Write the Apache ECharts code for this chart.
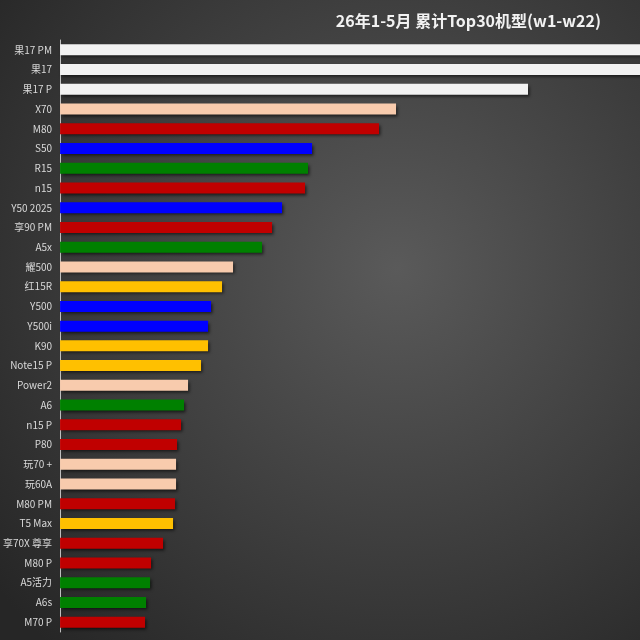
<!DOCTYPE html>
<html style="height: 100%">
<head>
    <meta charset="utf-8">
    <script src="https://cdn.jsdelivr.net/npm/echarts@6/dist/echarts.min.js"></script>
    <title>Top30</title>
</head>
<body style="height: 100%; margin: 0">
<div id="container" style="width: 640px; height: 640px"></div>
<script type="text/javascript">

    let models = ["果17 PM", "果17", "果17 P", "X70", "M80", "S50", "R15", "n15", "Y50 2025", "享90 PM",
        "A5x", "耀500", "红15R", "Y500", "Y500i", "K90", "Note15 P", "Power2", "A6", "n15 P",
        "P80", "玩70 +", "玩60A", "M80 PM", "T5 Max", "享70X 尊享", "M80 P", "A5活力", "A6s", "M70 P"]

    let sales = [650, 620, 468, 336, 319, 252, 248, 245, 222, 212,
        202, 173, 162, 151, 148, 148, 141, 128, 124, 121,
        117, 116, 116, 115, 113, 103, 91, 90, 86, 85]

    // brand group of each model -> colour
    let groups = ["w", "w", "w", "p", "r", "b", "g", "r", "b", "r",
        "g", "p", "y", "b", "b", "y", "y", "p", "g", "r",
        "r", "p", "p", "r", "y", "r", "r", "g", "g", "r"]

    let groupColors = {w: "#f2f2f2", p: "#f8cbad", r: "#c00000", b: "#0000ff", g: "#008000", y: "#ffc000"}

    let barData = sales.map((v, i) => ({
        value: v,
        itemStyle: {color: groupColors[groups[i]]}
    }))

    let chart = echarts.init(document.getElementById("container"))
    chart.setOption({
        backgroundColor: {
            type: 'radial', x: 0.62, y: 0.42, r: 0.8,
            colorStops: [
                {offset: 0, color: '#5a5a5a'},
                {offset: 1, color: '#262626'}
            ]
        },
        title: {
            text: '26年1-5月 累计Top30机型(w1-w22)',
            right: 34,
            top: 8,
            textStyle: {
                color: '#f2f2f2',
                fontSize: 16,
                fontWeight: 'bold',
                fontFamily: 'Noto Sans CJK SC'
            }
        },
        grid: {left: 60, right: 0, top: 40, bottom: 8},
        xAxis: {
            type: 'value',
            min: 0,
            max: 580,
            show: false
        },
        yAxis: {
            type: 'category',
            inverse: true,
            data: models,
            axisLine: {lineStyle: {color: '#bfbfbf', width: 1}},
            axisTick: {show: false},
            axisLabel: {
                color: '#d9d9d9',
                fontSize: 10,
                margin: 8,
                fontFamily: 'Noto Sans CJK SC'
            }
        },
        series: [{
            type: 'bar',
            data: barData,
            barWidth: 11,
            clip: true,
            itemStyle: {
                shadowColor: 'rgba(0,0,0,0.6)',
                shadowBlur: 3,
                shadowOffsetX: 2,
                shadowOffsetY: 2
            }
        }]
    })

</script>
</body>
</html>
